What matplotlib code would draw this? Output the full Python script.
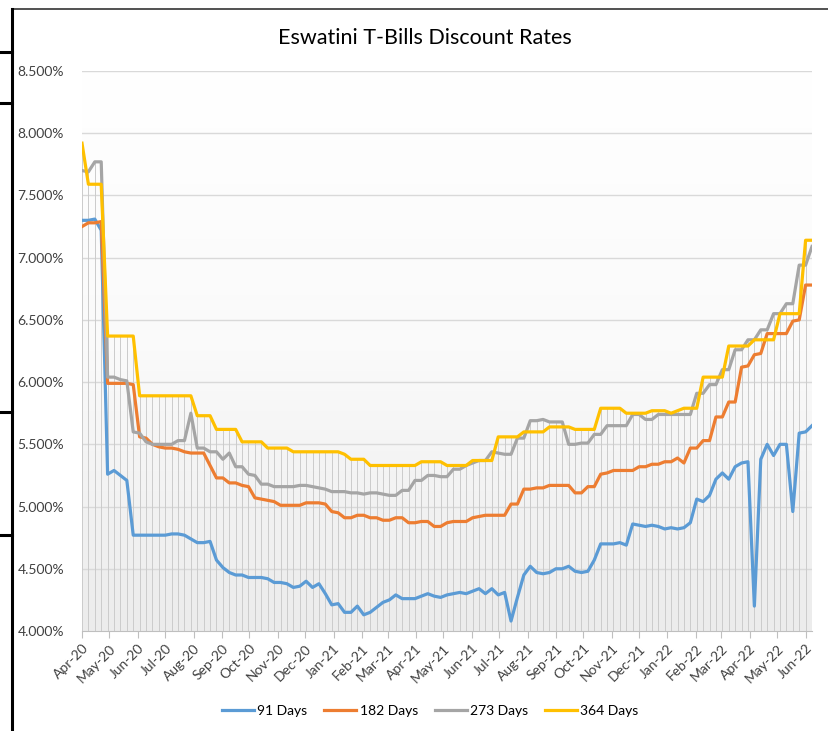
import numpy as np
import pandas as pd
import matplotlib
matplotlib.use('Agg')
import matplotlib.pyplot as plot
import matplotlib.dates as mdates
from matplotlib.colors import LinearSegmentedColormap
from matplotlib.lines import Line2D

plot.rcParams['font.family'] = ['Lato', 'DejaVu Sans']

# weekly auction dates
dates = pd.date_range('2020-04-01', periods=115, freq='7D')

# discount rates in percent
days_91 = [7.30, 7.30, 7.31, 7.22, 5.26, 5.29, 5.25, 5.21, 4.77, 4.77,
           4.77, 4.77, 4.77, 4.77, 4.78, 4.78, 4.77, 4.74, 4.71, 4.71,
           4.72, 4.57, 4.51, 4.47, 4.45, 4.45, 4.43, 4.43, 4.43, 4.42,
           4.39, 4.39, 4.38, 4.35, 4.36, 4.40, 4.35, 4.38, 4.30, 4.21,
           4.22, 4.15, 4.15, 4.20, 4.13, 4.15, 4.19, 4.23, 4.25, 4.29,
           4.26, 4.26, 4.26, 4.28, 4.30, 4.28, 4.27, 4.29, 4.30, 4.31,
           4.30, 4.32, 4.34, 4.30, 4.34, 4.29, 4.31, 4.08, 4.27, 4.45,
           4.52, 4.47, 4.46, 4.47, 4.50, 4.50, 4.52, 4.48, 4.47, 4.48,
           4.57, 4.70, 4.70, 4.70, 4.71, 4.69, 4.86, 4.85, 4.84, 4.85,
           4.84, 4.82, 4.83, 4.82, 4.83, 4.87, 5.06, 5.04, 5.09, 5.22,
           5.27, 5.22, 5.32, 5.35, 5.36, 4.20, 5.38, 5.50, 5.41, 5.50,
           5.50, 4.96, 5.59, 5.60, 5.65]

days_182 = [7.25, 7.28, 7.28, 7.29, 5.99, 5.99, 5.99, 5.99, 5.98, 5.56,
            5.55, 5.50, 5.48, 5.47, 5.47, 5.46, 5.44, 5.43, 5.43, 5.43,
            5.33, 5.23, 5.23, 5.19, 5.19, 5.17, 5.16, 5.07, 5.06, 5.05,
            5.04, 5.01, 5.01, 5.01, 5.01, 5.03, 5.03, 5.03, 5.02, 4.96,
            4.95, 4.91, 4.91, 4.93, 4.93, 4.91, 4.91, 4.89, 4.89, 4.91,
            4.91, 4.87, 4.87, 4.88, 4.88, 4.84, 4.84, 4.87, 4.88, 4.88,
            4.88, 4.91, 4.92, 4.93, 4.93, 4.93, 4.93, 5.02, 5.02, 5.14,
            5.14, 5.15, 5.15, 5.17, 5.17, 5.17, 5.17, 5.11, 5.11, 5.16,
            5.16, 5.26, 5.27, 5.29, 5.29, 5.29, 5.29, 5.32, 5.32, 5.34,
            5.34, 5.36, 5.36, 5.39, 5.35, 5.47, 5.47, 5.53, 5.53, 5.72,
            5.72, 5.84, 5.84, 6.12, 6.13, 6.22, 6.23, 6.39, 6.39, 6.39,
            6.39, 6.49, 6.50, 6.78, 6.78]

days_273 = [7.70, 7.69, 7.77, 7.77, 6.04, 6.04, 6.02, 6.01, 5.60, 5.59,
            5.52, 5.50, 5.50, 5.50, 5.50, 5.53, 5.53, 5.75, 5.47, 5.47,
            5.44, 5.44, 5.38, 5.43, 5.32, 5.32, 5.26, 5.25, 5.18, 5.18,
            5.16, 5.16, 5.16, 5.16, 5.17, 5.17, 5.16, 5.15, 5.14, 5.12,
            5.12, 5.12, 5.11, 5.11, 5.10, 5.11, 5.11, 5.10, 5.09, 5.09,
            5.13, 5.13, 5.21, 5.21, 5.25, 5.25, 5.24, 5.24, 5.30, 5.30,
            5.33, 5.35, 5.37, 5.37, 5.44, 5.43, 5.42, 5.42, 5.55, 5.55,
            5.69, 5.69, 5.70, 5.68, 5.68, 5.68, 5.50, 5.50, 5.51, 5.51,
            5.58, 5.58, 5.65, 5.65, 5.65, 5.65, 5.74, 5.74, 5.70, 5.70,
            5.74, 5.74, 5.74, 5.74, 5.74, 5.74, 5.91, 5.91, 5.98, 5.98,
            6.10, 6.10, 6.26, 6.26, 6.34, 6.34, 6.42, 6.42, 6.55, 6.55,
            6.63, 6.63, 6.94, 6.94, 7.09]

days_364 = [7.92, 7.59, 7.59, 7.59, 6.37, 6.37, 6.37, 6.37, 6.37, 5.89,
            5.89, 5.89, 5.89, 5.89, 5.89, 5.89, 5.89, 5.89, 5.73, 5.73,
            5.73, 5.62, 5.62, 5.62, 5.62, 5.52, 5.52, 5.52, 5.52, 5.47,
            5.47, 5.47, 5.47, 5.44, 5.44, 5.44, 5.44, 5.44, 5.44, 5.44,
            5.44, 5.42, 5.38, 5.38, 5.38, 5.33, 5.33, 5.33, 5.33, 5.33,
            5.33, 5.33, 5.33, 5.36, 5.36, 5.36, 5.36, 5.33, 5.33, 5.33,
            5.33, 5.37, 5.37, 5.37, 5.37, 5.56, 5.56, 5.56, 5.56, 5.60,
            5.60, 5.60, 5.60, 5.64, 5.64, 5.64, 5.64, 5.62, 5.62, 5.62,
            5.62, 5.79, 5.79, 5.79, 5.79, 5.75, 5.75, 5.75, 5.75, 5.77,
            5.77, 5.77, 5.75, 5.77, 5.79, 5.79, 5.79, 6.04, 6.04, 6.04,
            6.04, 6.29, 6.29, 6.29, 6.29, 6.34, 6.34, 6.34, 6.34, 6.55,
            6.55, 6.55, 6.55, 7.14, 7.14]

labels = ['91 Days', '182 Days', '273 Days', '364 Days']
colors = ['#5B9BD5', '#ED7D31', '#A5A5A5', '#FFC000']
series = [days_91, days_182, days_273, days_364]

W, H = 829, 731
figure = plot.figure(figsize=(W / 100, H / 100), dpi=100)
axis = figure.add_axes([82 / W, 1 - 631 / H, (812 - 82) / W, (631 - 71) / H])

y_min, y_max = 4.0, 8.5
x0, x1 = mdates.date2num(dates[0]), mdates.date2num(dates[-1])

# plot area gradient, white at the top to light grey at the bottom
cmap = LinearSegmentedColormap.from_list('bg', ['#ffffff', '#fafafa', '#ececec'])
grad = np.linspace(0, 1, 256).reshape(-1, 1)
axis.imshow(grad, cmap=cmap, aspect='auto', extent=[x0, x1, y_min, y_max],
            origin='upper', zorder=0)

# gridlines
for v in np.arange(4.5, 8.51, 0.5):
    axis.axhline(v, color='#d9d9d9', lw=1.0, zorder=1)

# drop lines
top = np.max(np.array(series), axis=0)
axis.vlines(dates, y_min, top, color='#cbcbcb', lw=0.7, zorder=2)

for s, c, l in zip(series, colors, labels):
    axis.plot(dates, s, color=c, lw=2.3, label=l, zorder=3,
              solid_joinstyle='round')

axis.set_xlim(x0, x1)
axis.set_ylim(y_min, y_max)
axis.set_yticks(np.arange(4.0, 8.51, 0.5))
axis.yaxis.set_major_formatter(plot.FuncFormatter(lambda v, p: '%.3f%%' % v))
axis.xaxis.set_major_locator(mdates.MonthLocator())
axis.xaxis.set_major_formatter(mdates.DateFormatter('%b-%y'))

for sp in ['top', 'right', 'left']:
    axis.spines[sp].set_visible(False)
axis.spines['bottom'].set_color('#bfbfbf')
axis.spines['bottom'].set_zorder(4)

axis.tick_params(axis='y', length=0, pad=13, labelsize=10, labelcolor='#404040')
axis.tick_params(axis='x', length=5, color='#bfbfbf', direction='out',
                 labelsize=10, labelcolor='#404040', pad=3)
for t in axis.get_xticklabels():
    t.set_rotation(45)
    t.set_ha('right')
    t.set_rotation_mode('anchor')

figure.text(0.513, 1 - 38 / H, 'Eswatini T-Bills Discount Rates',
            ha='center', va='center', fontsize=15.5, color='#000000')

figure.legend(loc='center', ncol=4, frameon=False, fontsize=10,
              bbox_to_anchor=(0.519, 1 - 711 / H), handlelength=2.3,
              columnspacing=1.2, handletextpad=0.25)

# sheet cell borders around the chart
def fig_line(xs, ys, lw, color='black'):
    figure.add_artist(Line2D([x / W for x in xs], [1 - y / H for y in ys],
                             transform=figure.transFigure, color=color, lw=lw))

fig_line([13, W], [9, 9], 1.2, '#333333')
fig_line([12, 12], [9, H], 2.2)
for y in [52, 103, 412, 535]:
    fig_line([0, 12], [y, y], 2.2)

figure.savefig('out.png', dpi=100)
